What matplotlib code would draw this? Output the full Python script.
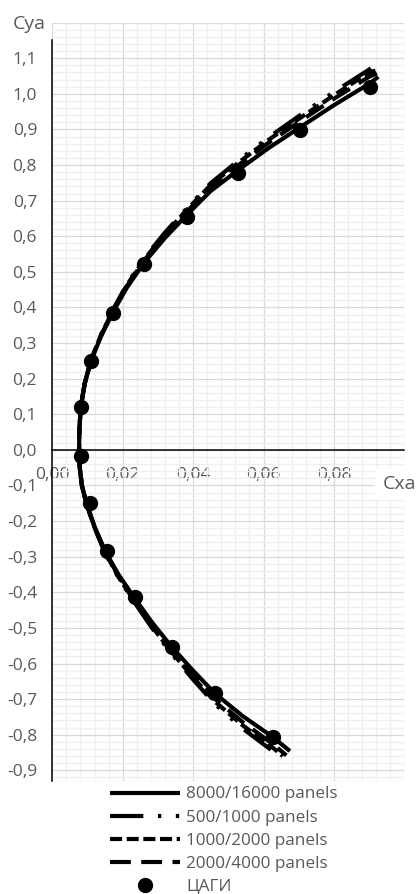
import matplotlib
matplotlib.use("Agg")
import matplotlib.pyplot as plt
from matplotlib.ticker import MultipleLocator, FuncFormatter
import numpy as np

plt.rcParams['font.family'] = ['Open Sans', 'DejaVu Sans']

# ---- data ----
labels = ["8000/16000 panels", "500/1000 panels", "1000/2000 panels", "2000/4000 panels", "ЦАГИ"]

cx_8000 = [0.0926, 0.0903, 0.0800, 0.0704, 0.0615, 0.0528, 0.0450, 0.0382, 0.0318, 0.0261,
           0.0212, 0.0173, 0.0138, 0.0110, 0.0092, 0.0081, 0.0077, 0.0076, 0.0078, 0.0084,
           0.0097, 0.0120, 0.0150, 0.0188, 0.0232, 0.0283, 0.0339, 0.0400, 0.0462, 0.0540,
           0.0626, 0.0675]
cy_8000 = [1.048, 1.030, 0.968, 0.906, 0.848, 0.786, 0.727, 0.660, 0.593, 0.526,
           0.456, 0.388, 0.318, 0.250, 0.185, 0.121, 0.060, 0.000, -0.050, -0.100,
           -0.150, -0.215, -0.284, -0.350, -0.414, -0.484, -0.553, -0.620, -0.684, -0.747,
           -0.806, -0.846]

cx_500 = [0.0905, 0.0900, 0.0800, 0.0704, 0.0615, 0.0528, 0.0450, 0.0382, 0.0318, 0.0261,
          0.0212, 0.0173, 0.0138, 0.0110, 0.0092, 0.0081, 0.0077, 0.0076, 0.0078, 0.0084,
          0.0097, 0.0120, 0.0150, 0.0188, 0.0232, 0.0283, 0.0339, 0.0400, 0.0462, 0.0540,
          0.0626, 0.0645]
cy_500 = [1.072, 1.068, 1.005, 0.940, 0.878, 0.812, 0.749, 0.678, 0.608, 0.538,
          0.465, 0.395, 0.323, 0.253, 0.187, 0.122, 0.060, 0.000, -0.050, -0.100,
          -0.152, -0.219, -0.290, -0.359, -0.426, -0.500, -0.573, -0.645, -0.714, -0.782,
          -0.846, -0.862]

cx_1000 = [0.0918, 0.0900, 0.0800, 0.0704, 0.0615, 0.0528, 0.0450, 0.0382, 0.0318, 0.0261,
           0.0212, 0.0173, 0.0138, 0.0110, 0.0092, 0.0081, 0.0077, 0.0076, 0.0078, 0.0084,
           0.0097, 0.0120, 0.0150, 0.0188, 0.0232, 0.0283, 0.0339, 0.0400, 0.0462, 0.0540,
           0.0626, 0.0655]
cy_1000 = [1.065, 1.060, 0.996, 0.932, 0.871, 0.806, 0.744, 0.674, 0.604, 0.535,
           0.463, 0.393, 0.322, 0.252, 0.186, 0.121, 0.060, 0.000, -0.050, -0.100,
           -0.151, -0.218, -0.288, -0.357, -0.423, -0.496, -0.568, -0.639, -0.707, -0.773,
           -0.836, -0.860]

cx_2000 = [0.0922, 0.0900, 0.0800, 0.0704, 0.0615, 0.0528, 0.0450, 0.0382, 0.0318, 0.0261,
           0.0212, 0.0173, 0.0138, 0.0110, 0.0092, 0.0081, 0.0077, 0.0076, 0.0078, 0.0084,
           0.0097, 0.0120, 0.0150, 0.0188, 0.0232, 0.0283, 0.0339, 0.0400, 0.0462, 0.0540,
           0.0626, 0.0665]
cy_2000 = [1.058, 1.048, 0.986, 0.923, 0.863, 0.799, 0.738, 0.669, 0.600, 0.532,
           0.460, 0.392, 0.320, 0.252, 0.186, 0.121, 0.060, 0.000, -0.050, -0.100,
           -0.151, -0.217, -0.287, -0.354, -0.420, -0.492, -0.563, -0.632, -0.699, -0.764,
           -0.826, -0.858]

cx_tsagi = [0.0903, 0.0704, 0.0528, 0.0382, 0.0261, 0.0173, 0.0109, 0.0081, 0.0081, 0.0107,
            0.0156, 0.0235, 0.0339, 0.0462, 0.0626]
cy_tsagi = [1.018, 0.898, 0.778, 0.653, 0.521, 0.385, 0.250, 0.121, -0.016, -0.149,
            -0.284, -0.414, -0.553, -0.684, -0.806]

x_ticks = [0.00, 0.02, 0.04, 0.06, 0.08, 0.10]
y_ticks = [-0.9, -0.8, -0.7, -0.6, -0.5, -0.4, -0.3, -0.2, -0.1, 0.0,
           0.1, 0.2, 0.3, 0.4, 0.5, 0.6, 0.7, 0.8, 0.9, 1.0, 1.1, 1.2]

# ---- figure ----
W, H = 419, 894
fig = plt.figure(figsize=(W / 100, H / 100), dpi=100)
ax = fig.add_axes([52.3 / W, 1 - 781 / H, 352 / W, (781 - 22.6) / H])

ax.set_xlim(0, 0.10)
ax.set_ylim(-0.93, 1.2)

txt = '#595959'
lw = 3.0
ax.plot(cx_8000, cy_8000, color='black', lw=lw, solid_capstyle='butt', label=labels[0], zorder=3)
ax.plot(cx_500, cy_500, color='black', lw=lw, linestyle=(0, (8, 3.5, 0.8, 3.5, 0.8, 3.5)),
        dash_capstyle='butt', label=labels[1], zorder=3)
ax.plot(cx_1000, cy_1000, color='black', lw=lw, linestyle=(0, (2.9, 1.1)),
        dash_capstyle='butt', label=labels[2], zorder=3)
ax.plot(cx_2000, cy_2000, color='black', lw=lw, linestyle=(0, (5, 2.5)),
        dash_capstyle='butt', label=labels[3], zorder=3)
ax.plot(cx_tsagi, cy_tsagi, linestyle='none', marker='o', markersize=10,
        color='black', label=labels[4], zorder=4)

# ticks & grid
ax.set_xticks(x_ticks)
ax.set_yticks(y_ticks)
ax.xaxis.set_minor_locator(MultipleLocator(0.004))
ax.yaxis.set_minor_locator(MultipleLocator(0.02))

def fx(v, pos):
    if abs(v - 0.10) < 1e-9:
        return ''
    return f"{v:.2f}".replace('.', ',')

def fy(v, pos):
    if v > 1.15:
        return ''
    s = f"{v:.1f}".replace('.', ',')
    if s == '-0,0':
        s = '0,0'
    return s

ax.xaxis.set_major_formatter(FuncFormatter(fx))
ax.yaxis.set_major_formatter(FuncFormatter(fy))
ax.tick_params(axis='both', which='both', length=0, colors=txt, labelsize=12.5)
ax.tick_params(axis='x', pad=12)
ax.tick_params(axis='y', pad=11)

ax.grid(True, which='major', color='#d9d9d9', lw=0.9, zorder=0)
ax.grid(True, which='minor', color='#efefef', lw=0.9, zorder=0)
ax.set_axisbelow(True)

for s in ['top', 'right']:
    ax.spines[s].set_visible(False)
ax.spines['bottom'].set_position(('data', 0))
ax.spines['bottom'].set_color('black')
ax.spines['bottom'].set_linewidth(1.1)
ax.spines['bottom'].set_zorder(2.5)
ax.spines['left'].set_color('black')
ax.spines['left'].set_linewidth(1.1)
ax.spines['left'].set_bounds(-0.93, 1.15)

# axis titles
fig.text(29 / W, 1 - 24 / H, 'Cya', fontsize=14, color=txt, ha='center', va='center')
fig.text(399 / W, 1 - 484 / H, 'Cxa', fontsize=14, color=txt, ha='center', va='center',
         bbox=dict(facecolor='white', edgecolor='none', pad=5), zorder=10)

leg = fig.legend(loc='upper left', bbox_to_anchor=(110 / W, 1 - 786.5 / H),
                 frameon=False, fontsize=12.3, handlelength=4.1, handletextpad=0.35,
                 labelspacing=0.42, borderpad=0, borderaxespad=0)
for t in leg.get_texts():
    t.set_color(txt)

fig.savefig('out.png', dpi=100)
